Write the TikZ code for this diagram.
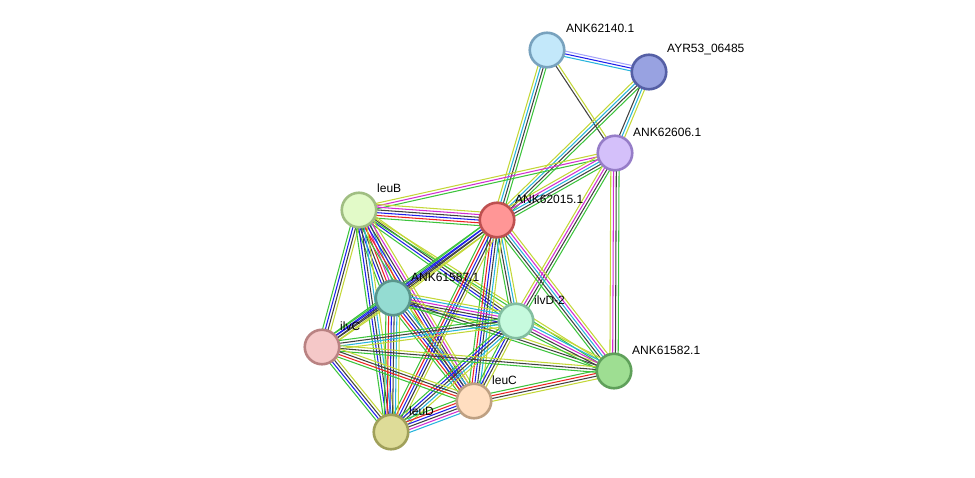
\documentclass[tikz,border=0pt]{standalone}
\usepackage{fontspec}
\setmainfont{Liberation Sans}
\usetikzlibrary{calc}
\pgfdeclarelayer{bg}
\pgfsetlayers{bg,main}
\definecolor{sgrn}{RGB}{60,195,60}
\definecolor{sred}{RGB}{235,35,35}
\definecolor{sblu}{RGB}{30,30,235}
\definecolor{sblk}{RGB}{65,65,65}
\definecolor{smag}{RGB}{210,45,210}
\definecolor{scyn}{RGB}{40,180,220}
\definecolor{syel}{RGB}{195,215,55}
\definecolor{slav}{RGB}{165,165,250}
\definecolor{fA}{RGB}{195,232,250}\definecolor{dA}{RGB}{120,162,190}
\definecolor{fB}{RGB}{152,162,225}\definecolor{dB}{RGB}{85,95,165}
\definecolor{fC}{RGB}{212,192,250}\definecolor{dC}{RGB}{150,125,200}
\definecolor{fD}{RGB}{226,250,200}\definecolor{dD}{RGB}{160,190,130}
\definecolor{fE}{RGB}{255,150,150}\definecolor{dE}{RGB}{190,80,80}
\definecolor{fF}{RGB}{148,220,210}\definecolor{dF}{RGB}{90,150,140}
\definecolor{fG}{RGB}{198,250,222}\definecolor{dG}{RGB}{130,190,160}
\definecolor{fH}{RGB}{245,200,200}\definecolor{dH}{RGB}{185,130,130}
\definecolor{fI}{RGB}{158,222,146}\definecolor{dI}{RGB}{95,160,90}
\definecolor{fJ}{RGB}{255,222,192}\definecolor{dJ}{RGB}{190,160,130}
\definecolor{fK}{RGB}{222,220,152}\definecolor{dK}{RGB}{160,160,90}
\tikzset{
  edgeline/.style={line width=1.05pt},
  prot/.style={circle, minimum size=34.5pt, inner sep=0pt, line width=2.6pt, fill=f#1, draw=d#1},
  plabel/.style={anchor=west, inner sep=0pt, font=\fontsize{12}{14}\selectfont}
}
\newcommand\sedge[3]{%
  \foreach \cc [count=\kk] in {#3}{\xdef\nn{\kk}}%
  \foreach \cc [count=\kk] in {#3}{%
    \pgfmathsetmacro\oo{(\kk-(\nn+1)/2)*2.75}%
    \draw[edgeline,color=\cc] ($(#1)!\oo pt!90:(#2)$) -- ($(#2)!\oo pt!-90:(#1)$);
  }%
}
\begin{document}
\begin{tikzpicture}[x=1pt,y=-1pt]
\useasboundingbox (0,0) rectangle (975,478);
% nodes
\node[prot=A] (A) at (547,50) {};
\node[prot=B] (B) at (649,72) {};
\node[prot=C] (C) at (615,153) {};
\node[prot=D] (D) at (359,210) {};
\node[prot=E] (E) at (497,220) {};
\node[prot=F] (F) at (393,298) {};
\node[prot=G] (G) at (516,321) {};
\node[prot=H] (H) at (322,347) {};
\node[prot=I] (I) at (614,371) {};
\node[prot=J] (J) at (474,401) {};
\node[prot=K] (K) at (391,432) {};
% labels
\node[plabel] (lA) at (566,28) {ANK62140.1};
\node[plabel] (lB) at (667,50) {AYR53\_06485};
\node[plabel] (lC) at (633,132) {ANK62606.1};
\node[plabel] (lD) at (377,188) {leuB};
\node[plabel] (lE) at (515,199) {ANK62015.1};
\node[plabel] (lF) at (411,277) {ANK61587.1};
\node[plabel] (lG) at (534,300) {ilvD-2};
\node[plabel] (lH) at (340,326) {ilvC};
\node[plabel] (lI) at (632,350) {ANK61582.1};
\node[plabel] (lJ) at (492,380) {leuC};
\node[plabel] (lK) at (409,411) {leuD};
% edges
\begin{pgfonlayer}{bg}
\sedge{A}{B}{scyn,sblu,slav}
\sedge{A}{C}{sblk,syel}
\sedge{A}{E}{syel,scyn,sblk,sgrn}
\sedge{B}{C}{sblk,scyn,syel}
\sedge{B}{E}{syel,scyn,sblk,sgrn}
\sedge{C}{D}{syel,smag,sgrn}
\sedge{C}{E}{syel,smag,scyn,sblk,sgrn}
\sedge{C}{G}{syel,smag,sblk,sgrn}
\sedge{C}{I}{syel,smag,sblk,sgrn}
\sedge{D}{E}{sgrn,sred,sblu,sblk,smag,syel}
\sedge{D}{F}{sgrn,sblu,sblk,sred,smag,scyn,syel}
\sedge{D}{G}{sgrn,sblu,sblk,syel}
\sedge{D}{H}{sgrn,sblu,sblk,syel}
\sedge{D}{I}{sgrn,syel}
\sedge{D}{J}{sgrn,sred,sblu,sblk,smag,syel}
\sedge{D}{K}{sgrn,sblu,sblk,scyn,syel}
\sedge{E}{F}{sgrn,sblu,sblk,syel}
\sedge{E}{G}{sgrn,sblk,scyn,syel}
\sedge{E}{H}{sgrn,sblu,sblk,syel}
\sedge{E}{I}{sgrn,sblk,scyn,smag,syel}
\sedge{E}{J}{sgrn,sred,sblu,sblk,scyn,syel}
\sedge{E}{K}{sgrn,sred,sblu,sblk,syel}
\sedge{F}{G}{sgrn,sblu,sblk,smag,scyn,syel}
\sedge{F}{H}{sgrn,sblu,sblk,syel}
\sedge{F}{I}{sgrn,sblk,syel}
\sedge{F}{J}{sgrn,sred,sblu,sblk,scyn,syel}
\sedge{F}{K}{sgrn,sred,sblu,sblk,scyn,syel}
\sedge{G}{H}{sgrn,sblk,scyn,syel}
\sedge{G}{I}{sgrn,sblk,smag,scyn,syel}
\sedge{G}{J}{sgrn,sblu,sblk,syel}
\sedge{G}{K}{sgrn,sblu,sblk,scyn,syel}
\sedge{H}{I}{sgrn,sblk,syel}
\sedge{H}{J}{sgrn,sred,sblk,syel}
\sedge{H}{K}{sgrn,sblu,sblk,syel}
\sedge{I}{J}{sgrn,sred,sblk,syel}
\sedge{J}{K}{sgrn,sred,sblu,sblk,smag,scyn}
\end{pgfonlayer}
\end{tikzpicture}
\end{document}
